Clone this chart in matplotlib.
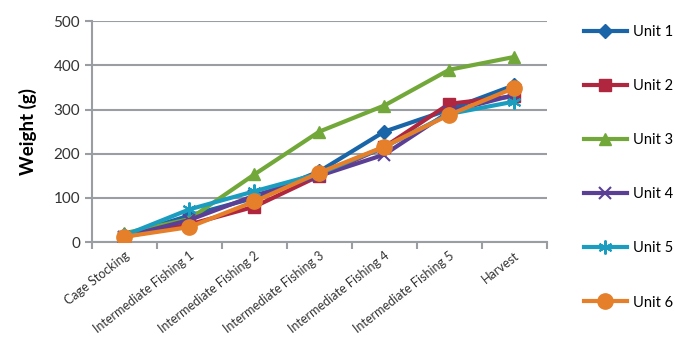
import matplotlib
matplotlib.use("Agg")
import matplotlib.pyplot as plt

categories = ["Cage Stocking", "Intermediate Fishing 1", "Intermediate Fishing 2",
              "Intermediate Fishing 3", "Intermediate Fishing 4", "Intermediate Fishing 5", "Harvest"]
unit1 = [15, 60, 100, 160, 250, 300, 355]
unit2 = [12, 40, 80, 150, 215, 313, 330]
unit3 = [20, 52, 153, 250, 309, 390, 419]
unit4 = [12, 50, 105, 150, 198, 295, 333]
unit5 = [15, 74, 115, 155, 215, 290, 318]
unit6 = [12, 34, 92, 157, 216, 288, 349]
series_names = ["Unit 1", "Unit 2", "Unit 3", "Unit 4", "Unit 5", "Unit 6"]
yticks = [0, 100, 200, 300, 400, 500]

plt.rcParams['font.family'] = ['Lato', 'DejaVu Sans']

fig = plt.figure(figsize=(6.75, 3.41), dpi=100)
ax = fig.add_axes([0.136, 0.29, 0.674, 0.648])

styles = [
    ("#1a64a8", "D", 7),
    ("#b0263f", "s", 8),
    ("#72a83a", "^", 9),
    ("#5b3f95", "x", 8),
    ("#1b9dbf", (6, 2, 0), 10),
    ("#e57f2a", "o", 11),
]
data = [unit1, unit2, unit3, unit4, unit5, unit6]
x = list(range(len(categories)))
handles = []
for vals, name, (c, m, ms) in zip(data, series_names, styles):
    h, = ax.plot(x, vals, color=c, lw=3, marker=m, markersize=ms,
                 markeredgecolor=c, markeredgewidth=1.5 if m in ("x",) or isinstance(m, tuple) else 1,
                 label=name, zorder=3)
    handles.append(h)

ax.set_xlim(-0.5, len(categories) - 0.5)
ax.set_ylim(0, 500)
ax.set_yticks(yticks)
ax.set_yticklabels([str(v) for v in yticks], fontsize=11, color="#333333")
ax.yaxis.grid(True, color="#9a9ea3", lw=1.5)
ax.set_axisbelow(True)
for s in ["top", "right"]:
    ax.spines[s].set_visible(False)
ax.spines["left"].set_color("#9a9ea3")
ax.spines["left"].set_linewidth(1.5)
ax.spines["bottom"].set_color("#9a9ea3")
ax.spines["bottom"].set_linewidth(1.5)
ax.tick_params(axis="y", length=5, color="#9a9ea3", width=1.5)

# category ticks at boundaries
ax.set_xticks([i - 0.5 for i in range(len(categories) + 1)], minor=True)
ax.set_xticks(x)
ax.set_xticklabels(categories, rotation=38, ha="right", rotation_mode="anchor",
                   fontsize=9, color="#333333")
ax.tick_params(axis="x", which="major", length=0, pad=5)
ax.tick_params(axis="x", which="minor", length=5, color="#9a9ea3", width=1.5)

ax.set_ylabel("Weight (g)", fontsize=13.5, fontweight="bold", labelpad=12)

fig.legend(handles=handles, labels=series_names, loc="upper left",
           bbox_to_anchor=(0.845, 0.965), frameon=False, fontsize=10.5,
           labelspacing=2.75, handlelength=3.0, handletextpad=0.4)

fig.savefig("out.png", dpi=100)
